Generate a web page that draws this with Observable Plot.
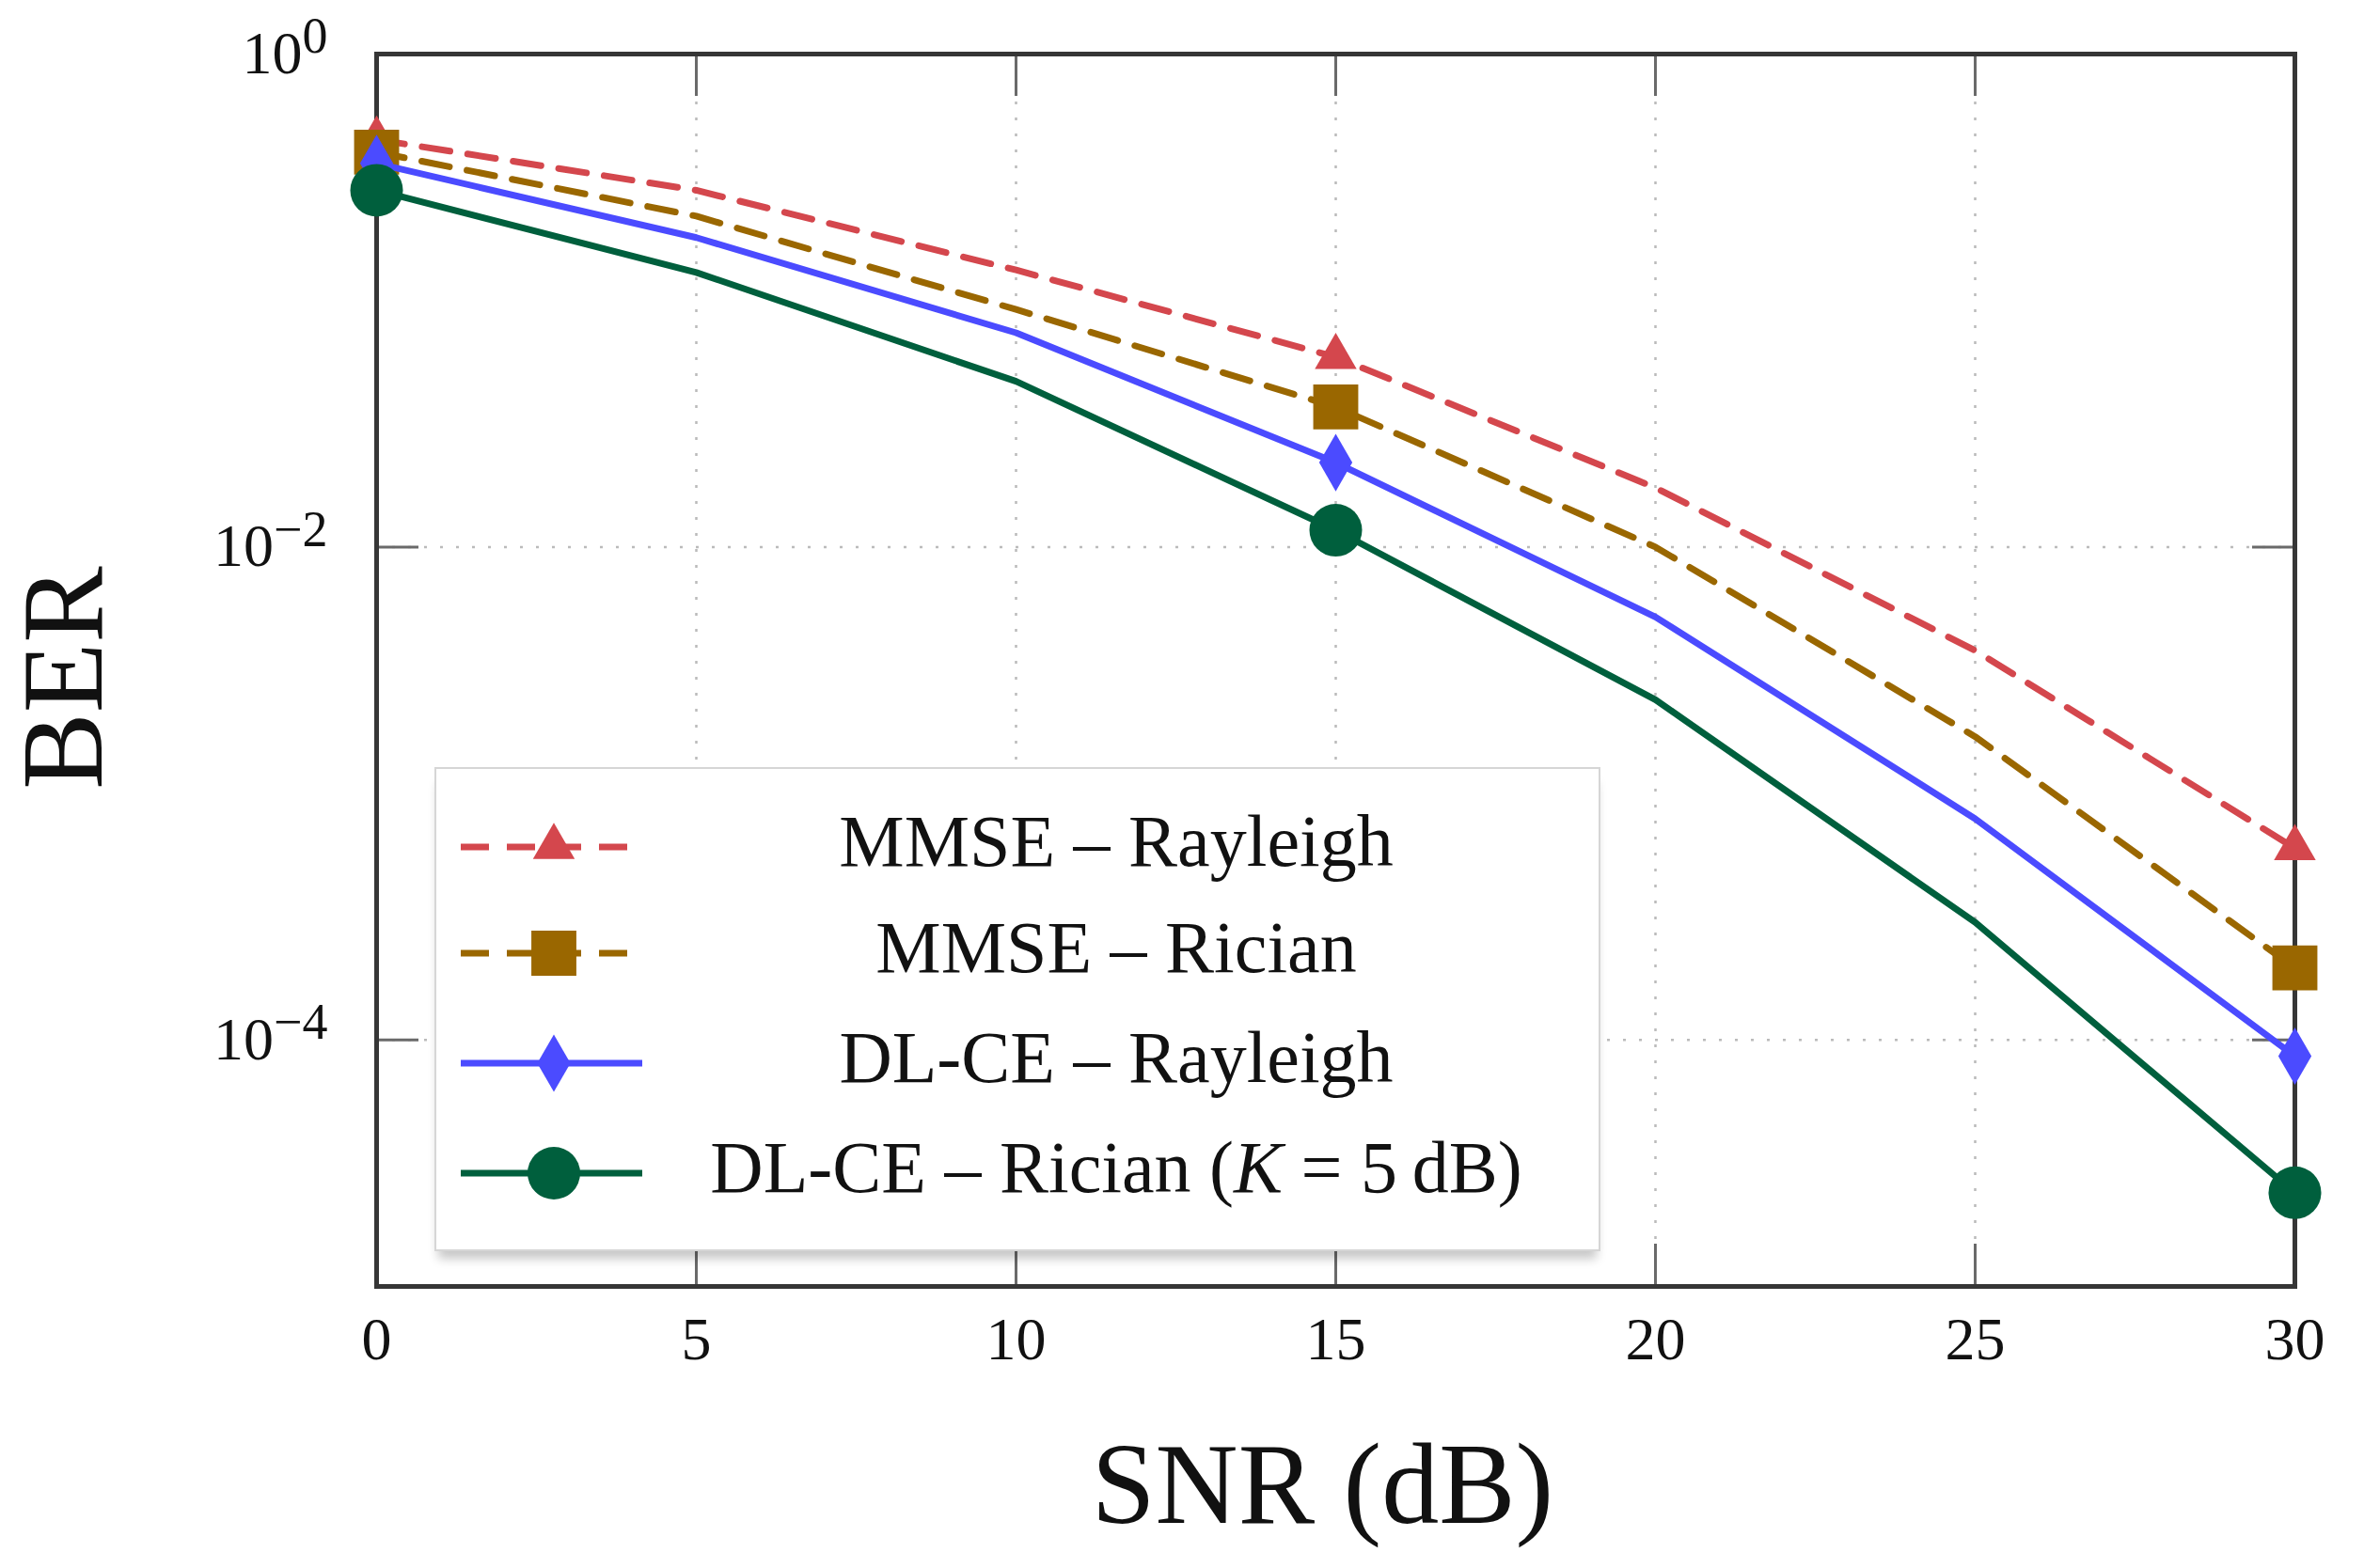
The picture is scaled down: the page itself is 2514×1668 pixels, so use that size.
<!DOCTYPE html>
<html><head><meta charset="utf-8">
<script src="https://cdn.jsdelivr.net/npm/d3@7"></script>
<script src="https://cdn.jsdelivr.net/npm/@observablehq/plot@0.6"></script>
<style>
html,body{margin:0;padding:0;background:#fff;}
#wrap{position:relative;width:2514px;height:1668px;overflow:hidden;}
#legend{position:absolute;left:462px;top:816px;width:1240px;height:515px;box-sizing:border-box;
  border:2px solid #d6d6d6;background:#fff;box-shadow:0 12px 10px -4px rgba(0,0,0,0.22);}
#legend svg{display:block;}
</style></head><body><div id="wrap"></div>
<script>
// ---- data ----
const snr = [0, 5, 10, 15, 20, 25, 30];
const mmseRayleigh = [0.45, 0.28, 0.133, 0.059, 0.0174, 0.0038, 6.0e-4];
const mmseRician   = [0.40, 0.22, 0.092, 0.037, 0.0100, 0.0017, 1.96e-4];
const dlceRayleigh = [0.36, 0.18, 0.074, 0.022, 0.0052, 7.9e-4, 8.6e-5];
const dlceRician   = [0.28, 0.13, 0.047, 0.0117, 0.0024, 3.0e-4, 2.4e-5];
const seriesNames = ["MMSE – Rayleigh", "MMSE – Rician", "DL-CE – Rayleigh", "DL-CE – Rician (K = 5 dB)"];
const seriesColors = ["#d4474d", "#9a6700", "#4b4bff", "#005f3d"];
const markerSNR = [0, 15, 30];
const xTicks = [0, 5, 10, 15, 20, 25, 30];
const yTicks = [1, 1e-2, 1e-4];
const xLabel = "SNR (dB)";
const yLabel = "BER";

// ---- build table ----
const allSeries = [mmseRayleigh, mmseRician, dlceRayleigh, dlceRician];
const rows = [];
allSeries.forEach((vals, i) => snr.forEach((s, j) => rows.push({series: seriesNames[i], snr: s, ber: vals[j]})));

const dashes = ["30,19", "30,19", null, null];
const symbols = ["triangle", "square", "diamond", "circle"];
const radii = [16.5, 27, 18.5, 28];

const W = 2514, H = 1668, ML = 400, MR = 74, MT = 57, MB = 300;
const PW = W - ML - MR, PH = H - MT - MB;
const serif = "'Liberation Serif', 'DejaVu Serif', serif";
const TICK = 45;

const marks = [
  Plot.gridX(xTicks.slice(1, -1), {stroke: "#bbbbbb", strokeOpacity: 1, strokeWidth: 2.5, strokeDasharray: "3,14"}),
  Plot.gridY(yTicks.slice(1), {stroke: "#bbbbbb", strokeOpacity: 1, strokeWidth: 2.5, strokeDasharray: "3,14"}),
  Plot.tickX(xTicks, {x: d => d, insetTop: PH - TICK, stroke: "#6a6a6a", strokeWidth: 3}),
  Plot.tickX(xTicks, {x: d => d, insetBottom: PH - TICK, stroke: "#6a6a6a", strokeWidth: 3}),
  Plot.tickY(yTicks, {y: d => d, insetRight: PW - TICK, stroke: "#6a6a6a", strokeWidth: 3}),
  Plot.tickY(yTicks, {y: d => d, insetLeft: PW - TICK, stroke: "#6a6a6a", strokeWidth: 3}),
  Plot.frame({stroke: "#363636", strokeWidth: 5}),
  Plot.axisX(xTicks, {tickSize: 0, tickPadding: 32, fontSize: 64, label: null, tickFormat: d => String(d)}),
  Plot.axisY(yTicks, {tickSize: 0, tickPadding: 52, fontSize: 64, label: null,
    tickFormat: d => "10^" + Math.round(Math.log10(d))}),
  Plot.text([xLabel], {frameAnchor: "bottom", text: d => d, dy: 212, dx: -14, fontSize: 122,
    textAnchor: "middle", lineAnchor: "middle"}),
  Plot.text([yLabel], {frameAnchor: "left", text: d => d, dx: -332, dy: 8, rotate: -90, fontSize: 122,
    textAnchor: "middle", lineAnchor: "middle"})
];

seriesNames.forEach((name, i) => {
  const lineOpts = {filter: d => d.series === name, x: "snr", y: "ber", stroke: seriesColors[i], strokeWidth: 7};
  if (dashes[i]) lineOpts.strokeDasharray = dashes[i];
  marks.push(Plot.line(rows, lineOpts));
  marks.push(Plot.dot(rows, {
    filter: d => d.series === name && markerSNR.includes(d.snr),
    x: "snr", y: "ber", symbol: symbols[i], r: radii[i], fill: seriesColors[i], stroke: "none"
  }));
});

const chart = Plot.plot({
  width: W, height: H,
  marginLeft: ML, marginRight: MR, marginTop: MT, marginBottom: MB,
  style: {fontFamily: serif, background: "#fff", color: "#111", overflow: "visible"},
  x: {domain: [0, 30]},
  y: {type: "log", domain: [1e-5, 1]},
  marks
});

// superscript exponents on y tick labels
d3.select(chart).selectAll('g[aria-label="y-axis tick label"] text').each(function() {
  const t = d3.select(this);
  const s = t.text();
  const m = s.match(/^10\^(-?\d+)$/);
  if (!m) return;
  t.text("");
  t.append("tspan").text("10");
  t.append("tspan").attr("dy", "-0.40em").attr("font-size", "54").text(m[1].replace("-", "−"));
});

const wrap = document.getElementById("wrap");
wrap.appendChild(chart);

// ---- legend ----
const leg = document.createElement("div");
leg.id = "legend";
wrap.appendChild(leg);
const lsvg = d3.select(leg).append("svg").attr("width", 1236).attr("height", 511);
const rowY = [83, 196, 313, 430];
const symMap = {triangle: d3.symbolTriangle, square: d3.symbolSquare, diamond: d3.symbolDiamond, circle: d3.symbolCircle};
seriesNames.forEach((name, i) => {
  const g = lsvg.append("g").attr("transform", `translate(0,${rowY[i]})`);
  const ln = g.append("line").attr("x1", 26).attr("x2", 219).attr("y1", 0).attr("y2", 0)
    .attr("stroke", seriesColors[i]).attr("stroke-width", 7);
  if (dashes[i]) ln.attr("stroke-dasharray", dashes[i]);
  g.append("path").attr("transform", "translate(125,0)")
    .attr("d", d3.symbol(symMap[symbols[i]], Math.PI * radii[i] * radii[i])())
    .attr("fill", seriesColors[i]);
  const txt = g.append("text").attr("x", 723).attr("y", 0).attr("dy", "0.25em")
    .attr("text-anchor", "middle").attr("font-family", serif).attr("font-size", 78).attr("fill", "#111");
  const km = name.match(/^(.*\()K( = 5)\s?(dB\))$/);
  if (km) {
    txt.append("tspan").text(km[1]);
    txt.append("tspan").attr("font-style", "italic").text("K");
    txt.append("tspan").text(km[2] + "\u2009" + km[3]);
  } else {
    txt.text(name);
  }
});
</script>
</body></html>
